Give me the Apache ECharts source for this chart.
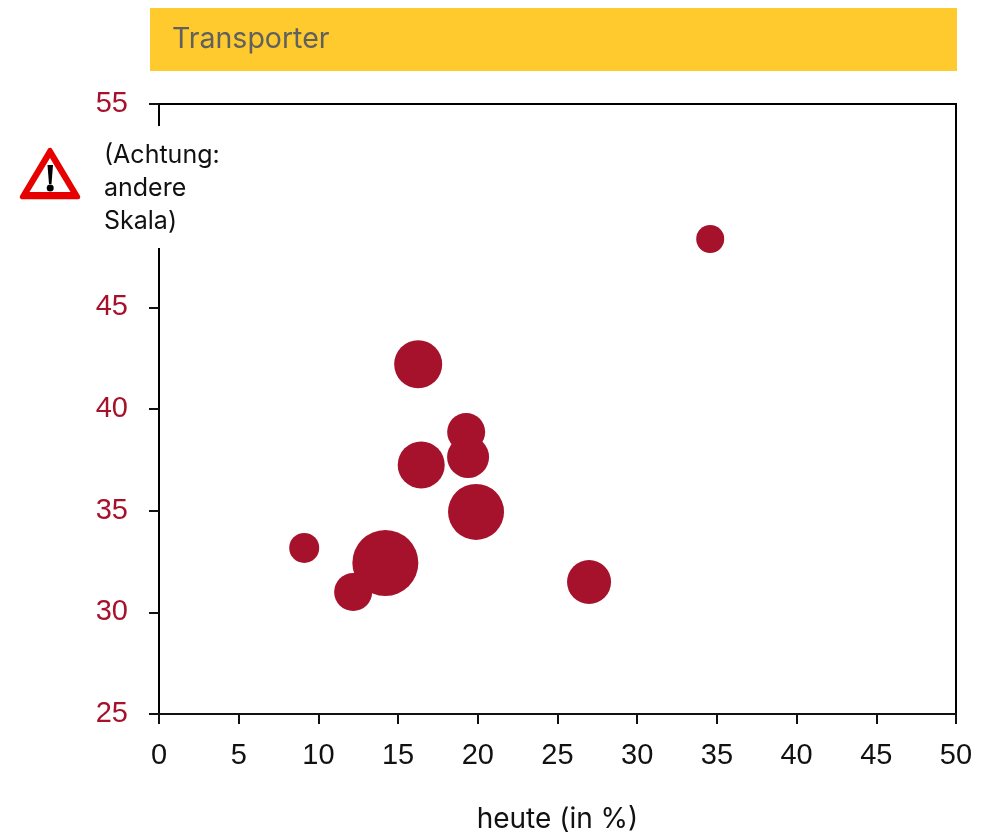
<!DOCTYPE html>
<html>
<head>
<meta charset="utf-8">
<style>html,body{margin:0;padding:0;background:#fff}#chart{width:987px;height:834px}</style>
<script src="https://cdn.jsdelivr.net/npm/echarts@6/dist/echarts.min.js"></script>
</head>
<body>
<div id="chart"></div>
<script>
// Bubble chart: share today (x) against expected share (y), bubble diameter in px
const xToday = [34.58, 16.26, 19.27, 19.39, 16.45, 19.89, 9.11, 14.2, 12.18, 26.98];
const yShare = [48.36, 42.2, 38.87, 37.64, 37.25, 34.94, 33.17, 32.43, 31.0, 31.49];
const bubbleSize = [28, 48, 38, 42, 47, 56, 30, 66, 38, 44];
const titleText = 'Transporter';
const xAxisName = 'heute (in %)';
const noteLines = ['(Achtung:', 'andere', 'Skala)'];

const RED = '#A6112B';
const points = xToday.map((x, i) => [x, yShare[i], bubbleSize[i]]);

const chart = echarts.init(document.getElementById('chart'), null, { renderer: 'canvas' });
const numFont = '"Liberation Sans", Arial, sans-serif';
const textFont = 'Inter, "Noto Sans", sans-serif';

chart.setOption({
  animation: false,
  backgroundColor: '#fff',
  grid: { left: 159, right: 31, top: 104, bottom: 120, outerBoundsMode: 'none', show: true, borderColor: '#000', borderWidth: 2, backgroundColor: 'transparent' },
  xAxis: {
    type: 'value', min: 0, max: 50, interval: 5,
    name: xAxisName, nameLocation: 'middle', nameGap: 92,
    nameTextStyle: { fontFamily: textFont, fontSize: 28, color: '#111' },
    axisLine: { show: true, onZero: false, lineStyle: { color: '#111', width: 2 } },
    axisTick: { show: true, inside: false, length: 10, lineStyle: { color: '#111', width: 2 } },
    axisLabel: { fontFamily: numFont, fontSize: 29, color: '#111', margin: 27, hideOverlap: false, showMinLabel: true, showMaxLabel: true },
    splitLine: { show: false }
  },
  yAxis: {
    type: 'value', min: 25, max: 55, interval: 5,
    axisLine: { show: true, onZero: false, lineStyle: { color: '#000', width: 2 } },
    axisTick: { show: true, inside: false, length: 10, lineStyle: { color: '#111', width: 2 } },
    axisLabel: { fontFamily: numFont, fontSize: 29, color: RED, margin: 31, showMinLabel: true, showMaxLabel: true },
    splitLine: { show: false }
  },
  series: [{
    type: 'scatter',
    data: points,
    symbol: 'circle',
    symbolSize: d => d[2],
    itemStyle: { color: RED, opacity: 1 },
    z: 3
  }],
  graphic: [
    // Title band
    { type: 'rect', z: 10, shape: { x: 150, y: 8, width: 807, height: 63 }, style: { fill: '#FFCA2D' } },
    { type: 'text', z: 11, x: 172, y: 39, style: { text: titleText, fontFamily: textFont, fontSize: 28.5, fill: '#5F6060', verticalAlign: 'middle', align: 'left' } },
    // Note box masking part of the y axis
    { type: 'rect', z: 10, shape: { x: 96, y: 126, width: 135, height: 122 }, style: { fill: '#fff' } },
    ...noteLines.map((t, i) => ({
      type: 'text', z: 11, x: 104, y: 155 + i * 33,
      style: { text: t, fontFamily: textFont, fontSize: 25, fill: '#111', verticalAlign: 'middle', align: 'left' }
    })),
    // Warning triangle
    { type: 'polygon', z: 11, shape: { points: [[50, 150], [22, 197], [78, 197]] },
      style: { fill: '#E60000', stroke: '#E60000', lineWidth: 4.5, lineJoin: 'round' } },
    { type: 'polygon', z: 11, shape: { points: [[50, 158], [29.5, 192], [70.5, 192]] }, style: { fill: '#fff' } },
    { type: 'polygon', z: 12, shape: { points: [[47.5, 165], [53, 165], [51.5, 184], [49, 184]] }, style: { fill: '#000' } },
    { type: 'circle', z: 12, shape: { cx: 50.2, cy: 188, r: 3.5 }, style: { fill: '#000' } }
  ]
});
</script>
</body>
</html>
